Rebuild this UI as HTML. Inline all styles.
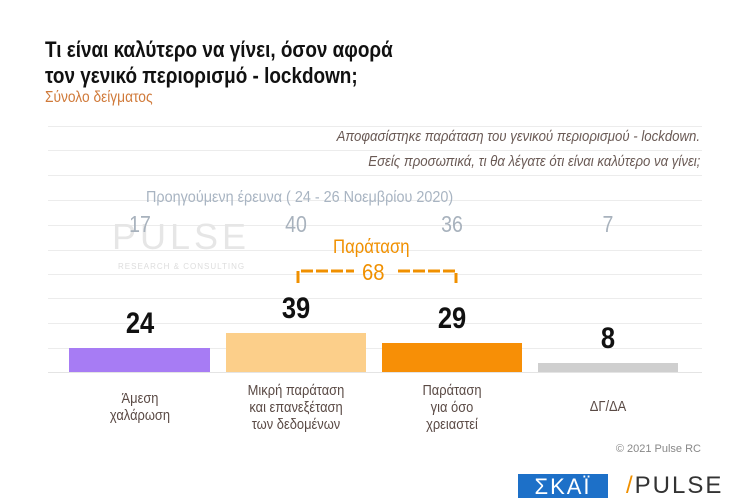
<!DOCTYPE html>
<html><head><meta charset="utf-8"><style>
body{margin:0;width:748px;height:498px;background:#fff;overflow:hidden;position:relative;font-family:"Liberation Sans","DejaVu Sans",sans-serif}
.a{position:absolute;white-space:nowrap}
.g{position:absolute;left:48px;width:654px;height:1px;background:#ececec}
.v{position:absolute;font-weight:bold;font-size:30px;color:#111;text-align:center;width:140px;transform:scaleX(0.85)}
.p{position:absolute;font-size:23px;color:#a8b2bd;text-align:center;width:140px;transform:scaleX(0.85)}
.l{position:absolute;font-size:15px;color:#5a4a45;text-align:center;width:160px;line-height:17px;transform:scaleX(0.86)}
</style></head><body>
<div class="a" style="left:45px;top:37px;font-size:22px;font-weight:bold;color:#111;line-height:26px;transform:scaleX(0.86);transform-origin:left">Τι είναι καλύτερο να γίνει, όσον αφορά<br>τον γενικό περιορισμό - lockdown;</div>
<div class="a" style="left:45px;top:89px;font-size:16px;color:#d07a3a;transform:scaleX(0.86);transform-origin:left">Σύνολο δείγματος</div>
<div class="g" style="top:126px"></div><div class="g" style="top:150px"></div><div class="g" style="top:175px"></div><div class="g" style="top:200px"></div><div class="g" style="top:225px"></div><div class="g" style="top:250px"></div><div class="g" style="top:274px"></div><div class="g" style="top:298px"></div><div class="g" style="top:323px"></div><div class="g" style="top:348px"></div><div class="g" style="top:372px;background:#e4e4e4"></div>
<div class="a" style="right:48px;top:128px;font-size:15px;font-style:italic;color:#6a5a55;transform:scaleX(0.88);transform-origin:right">Αποφασίστηκε παράταση του γενικού περιορισμού - lockdown.</div>
<div class="a" style="right:48px;top:153px;font-size:15px;font-style:italic;color:#6a5a55;transform:scaleX(0.88);transform-origin:right">Εσείς προσωπικά, τι θα λέγατε ότι είναι καλύτερο να γίνει;</div>
<div class="a" style="left:146px;top:189px;font-size:16px;color:#a8b4c2;transform:scaleX(0.9);transform-origin:left">Προηγούμενη έρευνα ( 24 - 26 Νοεμβρίου 2020)</div>
<div class="a" style="left:112px;top:216px;font-size:36px;color:#e6e6e6;letter-spacing:4px">PULSE</div>
<div class="a" style="left:118px;top:262px;font-size:8px;color:#ddd;letter-spacing:1px">RESEARCH &amp; CONSULTING</div>
<div class="p" style="left:70px;top:211px">17</div><div class="p" style="left:226px;top:211px">40</div><div class="p" style="left:382px;top:211px">36</div><div class="p" style="left:538px;top:211px">7</div>
<div class="a" style="left:333px;top:237px;font-size:19px;color:#f09000;transform:scaleX(0.88);transform-origin:left">Παράταση</div>
<div class="a" style="left:362px;top:259px;font-size:23px;color:#f09000;transform:scaleX(0.88);transform-origin:left">68</div>
<svg class="a" style="left:0;top:0" width="748" height="498"><path d="M298 283V271H354M398 271H456V283" fill="none" stroke="#f09000" stroke-width="3" stroke-dasharray="12,3"/></svg>
<div style="position:absolute;left:69px;top:348px;width:141px;height:24px;background:#a77cf4"></div>
<div style="position:absolute;left:226px;top:333px;width:140px;height:39px;background:#fccf8a"></div>
<div style="position:absolute;left:382px;top:343px;width:140px;height:29px;background:#f78f06"></div>
<div style="position:absolute;left:538px;top:363px;width:140px;height:9px;background:#cfcfcf"></div>
<div class="v" style="left:70px;top:307px">24</div><div class="v" style="left:226px;top:292px">39</div><div class="v" style="left:382px;top:302px">29</div><div class="v" style="left:538px;top:322px">8</div>
<div class="l" style="left:60px;top:390px">Άμεση<br>χαλάρωση</div>
<div class="l" style="left:216px;top:382px">Μικρή παράταση<br>και επανεξέταση<br>των δεδομένων</div>
<div class="l" style="left:372px;top:382px">Παράταση<br>για όσο<br>χρειαστεί</div>
<div class="l" style="left:528px;top:398px">ΔΓ/ΔΑ</div>
<div class="a" style="right:47px;top:443px;font-size:11px;color:#888">© 2021 Pulse RC</div>
<div class="a" style="left:518px;top:474px;width:90px;height:24px;background:#1d70c8;color:#fff;font-size:22px;line-height:26px;text-align:center;letter-spacing:2px">ΣΚΑΪ</div>
<div class="a" style="left:626px;top:472px;font-size:24px;color:#333;letter-spacing:2px"><span style="color:#f09000">/</span>PULSE</div>
</body></html>
